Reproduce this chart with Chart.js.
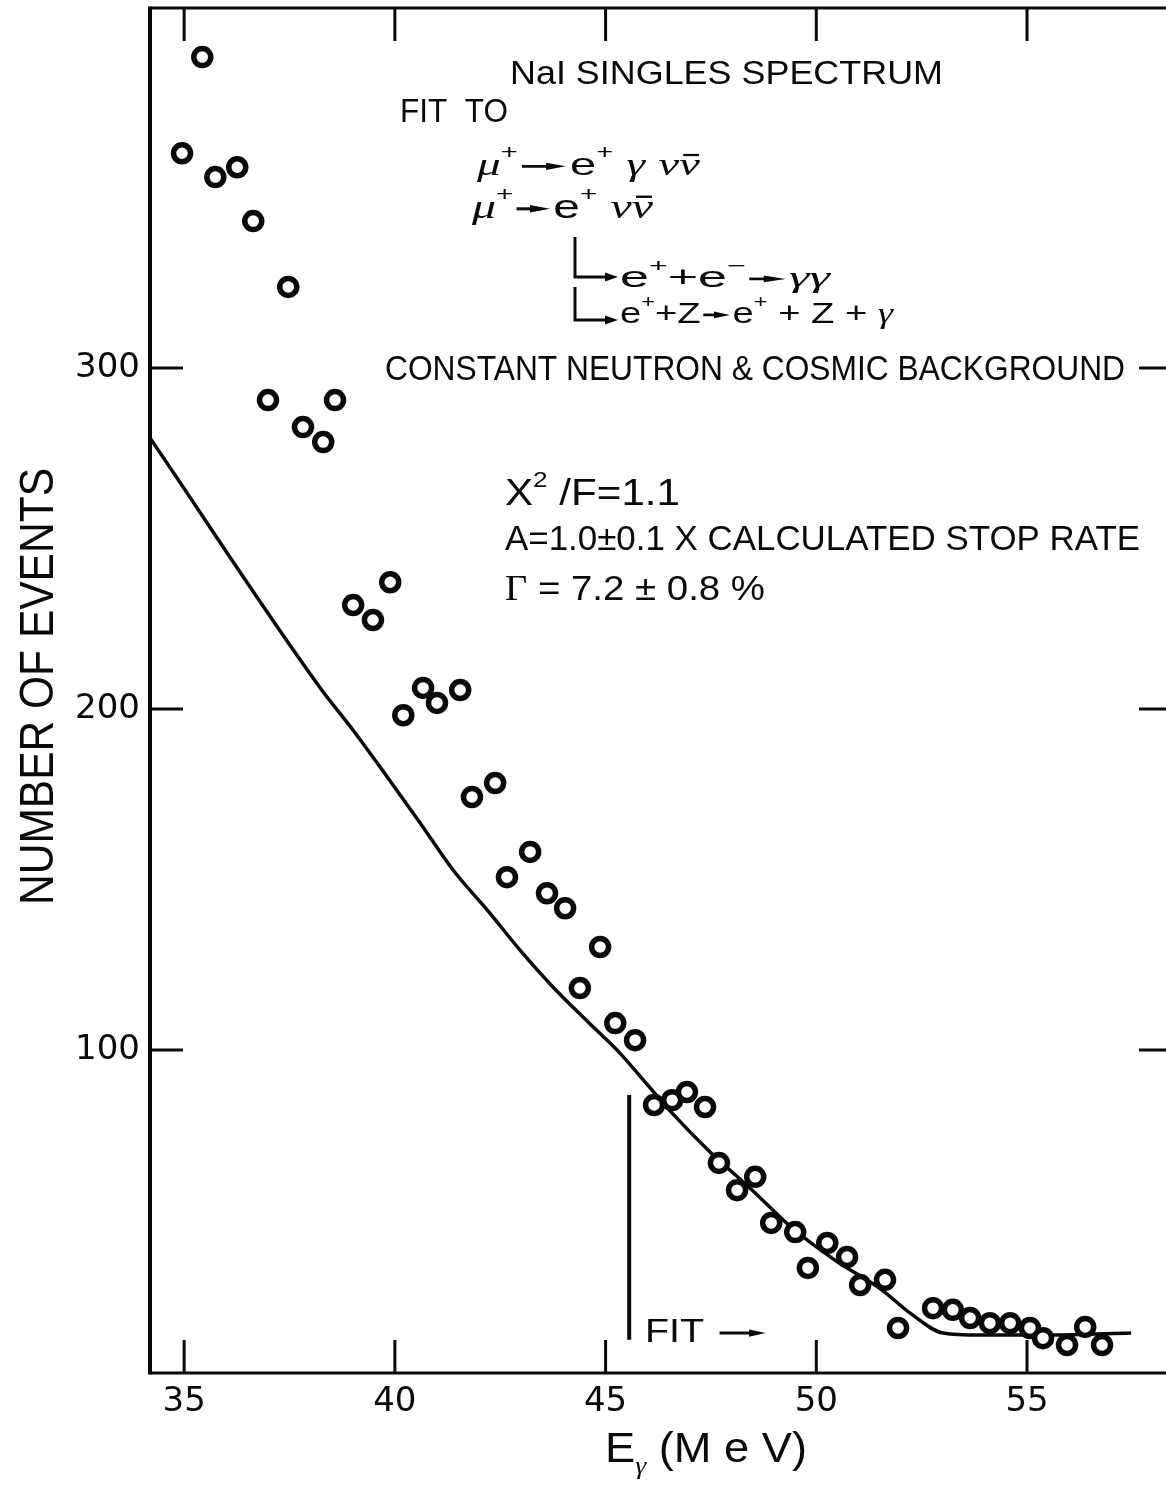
<!DOCTYPE html>
<html>
<head>
<meta charset="utf-8">
<script src="https://cdn.jsdelivr.net/npm/chart.js@4.4.1/dist/chart.umd.min.js"></script>
<style>
html,body{margin:0;padding:0;background:#fff;overflow:hidden;}
#wrap{position:relative;width:1180px;height:1489px;}
</style>
</head>
<body>
<div id="wrap"><canvas id="c"></canvas></div>
<script>
// ---- data ----
const pointX = [35.43, 34.95, 35.74, 36.26, 36.64, 37.47, 36.99, 37.82, 38.30, 38.58,
  39.01, 39.48, 39.89, 40.20, 40.67, 41.00, 41.55, 41.83, 42.38, 42.66,
  43.21, 43.61, 44.04, 44.87, 44.39, 45.23, 45.70,
  46.15, 46.58, 46.93, 47.36, 47.69, 48.12, 48.55, 48.93, 49.50, 49.80,
  50.26, 50.73, 51.04, 51.63, 51.94, 52.77, 53.24, 53.65, 54.12, 54.60,
  55.07, 55.38, 55.95, 56.38, 56.78];
const pointY = [391.2, 363.0, 356.0, 358.9, 343.1, 323.8, 290.6, 282.7, 278.3, 290.6,
  230.5, 226.1, 237.2, 198.2, 206.2, 201.8, 205.6, 174.2, 178.3, 150.7,
  158.1, 146.0, 141.6, 130.2, 118.2, 107.9, 102.9,
  83.9, 85.3, 87.7, 83.3, 66.9, 58.9, 62.8, 49.3, 46.6, 36.1,
  43.4, 39.3, 31.1, 32.6, 18.5, 24.3, 23.8, 21.4, 19.9, 19.9,
  18.5, 15.5, 13.5, 18.8, 13.5];
const fitX = [34.19, 38.23, 39.01, 39.82, 40.60, 41.38, 42.19, 42.97, 43.75, 44.56,
  45.34, 45.98, 46.58, 47.43, 48.48, 49.40, 50.44, 51.56, 52.22, 53.01,
  53.86, 55.57, 57.47];
const fitY = [279.5, 206.2, 193.8, 180.1, 166.6, 152.8, 141.1, 129.3, 118.5, 108.5,
  99.1, 90.0, 81.5, 70.7, 58.9, 48.1, 38.4, 29.6, 22.9, 17.0,
  16.4, 16.4, 17.0];
const fitMarkX = [45.56, 45.56];
const fitMarkY = [86.8, 15.0];
const xTicks = [35, 40, 45, 50, 55];
const yTicks = [100, 200, 300];
const xRange = [34.19, 58.44];
const yRange = [5.28, 405.6];

const toXY = (xs, ys) => xs.map((x, i) => ({x: x, y: ys[i]}));

const SANS = "'Liberation Sans', Arial, sans-serif";
const SERIF = "'Liberation Serif', 'DejaVu Serif', serif";
const INK = '#0a0a0a';

function fontFor(flags, size) {
  let sz = size;
  if (flags.includes('^') || flags.includes('_')) sz = size * 0.62;
  const fam = flags.includes('s') ? SERIF : SANS;
  const it = flags.includes('i') ? 'italic ' : '';
  return it + sz.toFixed(1) + 'px ' + fam;
}
function drawRich(ctx, runs, x, y, size, w) {
  let total = 0;
  const meas = runs.map(([t, f]) => {
    ctx.font = fontFor(f, size);
    const m = ctx.measureText(t).width;
    total += m;
    return m;
  });
  ctx.save();
  ctx.translate(x, y);
  ctx.scale(w / total, 1);
  let cx = 0;
  runs.forEach(([t, f], i) => {
    ctx.font = fontFor(f, size);
    let dy = 0;
    if (f.includes('^')) dy = -size * 0.5;
    if (f.includes('_')) dy = size * 0.28;
    if (f.includes('a')) {
      const m = meas[i];
      const ay = -size * 0.27;
      const hl = size * 0.42;
      ctx.lineWidth = size * 0.09;
      ctx.beginPath();
      ctx.moveTo(cx + m * 0.08, ay);
      ctx.lineTo(cx + m * 0.92 - hl * 0.5, ay);
      ctx.stroke();
      ctx.beginPath();
      ctx.moveTo(cx + m * 0.92 - hl, ay - size * 0.11);
      ctx.lineTo(cx + m * 0.92, ay);
      ctx.lineTo(cx + m * 0.92 - hl, ay + size * 0.11);
      ctx.closePath();
      ctx.fill();
    } else {
      ctx.fillText(t, cx, dy);
    }
    if (f.includes('b')) {
      ctx.fillRect(cx + meas[i] * 0.2, dy - size * 0.66, meas[i] * 0.75, size * 0.07);
    }
    cx += meas[i];
  });
  ctx.restore();
}
function arrowHook(ctx, x, y1, y2, x2) {
  ctx.beginPath();
  ctx.moveTo(x, y1);
  ctx.lineTo(x, y2);
  ctx.lineTo(x2 - 8, y2);
  ctx.stroke();
  ctx.beginPath();
  ctx.moveTo(x2 - 13, y2 - 4.5);
  ctx.lineTo(x2, y2);
  ctx.lineTo(x2 - 13, y2 + 4.5);
  ctx.closePath();
  ctx.fill();
}

const framePlugin = {
  id: 'frame',
  afterDraw(chart) {
    const ctx = chart.ctx;
    const a = chart.chartArea;
    const xs = chart.scales.x, ys = chart.scales.y;
    ctx.save();
    ctx.strokeStyle = INK;
    ctx.fillStyle = INK;
    ctx.lineCap = 'butt';
    // frame
    ctx.lineWidth = 3;
    ctx.beginPath();
    ctx.moveTo(a.left, a.top); ctx.lineTo(a.right, a.top);
    ctx.moveTo(a.left, a.bottom); ctx.lineTo(a.right, a.bottom);
    ctx.moveTo(a.right, a.top); ctx.lineTo(a.right, a.bottom);
    ctx.stroke();
    ctx.lineWidth = 4;
    ctx.beginPath();
    ctx.moveTo(a.left, a.top - 1.5); ctx.lineTo(a.left, a.bottom + 1.5);
    ctx.stroke();
    // inward ticks
    const TL = 33;
    ctx.lineWidth = 3;
    ctx.beginPath();
    xTicks.forEach(v => {
      const px = xs.getPixelForValue(v);
      ctx.moveTo(px, a.bottom); ctx.lineTo(px, a.bottom - TL);
      ctx.moveTo(px, a.top); ctx.lineTo(px, a.top + TL);
    });
    yTicks.forEach(v => {
      const py = ys.getPixelForValue(v);
      ctx.moveTo(a.left, py); ctx.lineTo(a.left + TL, py);
      ctx.moveTo(a.right, py); ctx.lineTo(a.right - TL, py);
    });
    ctx.stroke();

    // annotations
    ctx.textAlign = 'left';
    ctx.textBaseline = 'alphabetic';
    drawRich(ctx, [['NaI SINGLES SPECTRUM', '']], 510, 84, 33, 433);
    drawRich(ctx, [['FIT  TO', '']], 400, 122, 33, 108);
    drawRich(ctx, [['\u03BC', 'si'], ['+', '^'], ['    ', 'a'], ['e', ''], ['+', '^'], [' ', ''],
      ['\u03B3', 'si'], [' ', ''], ['\u03BD', 'si'], ['\u03BD', 'sib']], 477, 175, 32, 223);
    drawRich(ctx, [['\u03BC', 'si'], ['+', '^'], ['   ', 'a'], ['e', ''], ['+', '^'], [' ', ''],
      ['\u03BD', 'si'], ['\u03BD', 'sib']], 472, 218, 34, 181);
    ctx.lineWidth = 3;
    arrowHook(ctx, 575, 237, 277, 618);
    arrowHook(ctx, 575, 287, 320, 618);
    drawRich(ctx, [['e', ''], ['+', '^'], ['+', ''], ['e', ''], ['\u2212', '^'], ['   ', 'a'],
      ['\u03B3\u03B3', 'si']], 620, 287, 30, 210);
    drawRich(ctx, [['e', ''], ['+', '^'], ['+Z', ''], ['   ', 'a'], ['e', ''], ['+', '^'], [' + Z + ', ''],
      ['\u03B3', 'si']], 620, 323, 30, 273);
    drawRich(ctx, [['CONSTANT NEUTRON & COSMIC BACKGROUND', '']], 385, 380, 35, 740);
    drawRich(ctx, [['X', ''], ['2', '^'], [' /F=1.1', '']], 505, 505, 36, 175);
    drawRich(ctx, [['A=1.0\u00B10.1 X CALCULATED STOP RATE', '']], 505, 550, 35, 635);
    drawRich(ctx, [['\u0393', 's'], [' = 7.2 \u00B1 0.8 %', '']], 505, 600, 35, 260);
    drawRich(ctx, [['FIT', ''], [' ', ''], ['     ', 'a']], 645, 1342, 33, 125);

    // axis titles
    drawRich(ctx, [['E', ''], ['\u03B3', 'si_'], [' (M e V)', '']], 605, 1462, 42, 202);
    ctx.save();
    ctx.translate(36, 687);
    ctx.rotate(-Math.PI / 2);
    drawRich(ctx, [['NUMBER OF EVENTS', '']], -218, 17, 48, 437);
    ctx.restore();
    ctx.restore();
  }
};

function noPad(s) {
  s.paddingTop = 0; s.paddingBottom = 0; s.paddingLeft = 0; s.paddingRight = 0;
}

new Chart(document.getElementById('c'), {
  type: 'scatter',
  data: {
    datasets: [
      {
        label: 'data',
        data: toXY(pointX, pointY),
        pointStyle: 'circle',
        pointRadius: 8.5,
        pointBorderWidth: 5.5,
        pointBackgroundColor: '#ffffff',
        pointBorderColor: INK,
        showLine: false,
        order: 0
      },
      {
        label: 'fit',
        data: toXY(fitX, fitY),
        showLine: true,
        borderColor: INK,
        borderWidth: 3.5,
        pointRadius: 0,
        cubicInterpolationMode: 'monotone',
        order: 1
      },
      {
        label: 'fit range',
        data: toXY(fitMarkX, fitMarkY),
        showLine: true,
        borderColor: INK,
        borderWidth: 4,
        pointRadius: 0,
        order: 2
      }
    ]
  },
  options: {
    responsive: true,
    maintainAspectRatio: false,
    animation: false,
    layout: {autoPadding: false, padding: {left: 0, top: 8, right: 8, bottom: 0}},
    plugins: {legend: {display: false}, tooltip: {enabled: false}},
    scales: {
      x: {
        type: 'linear',
        min: xRange[0], max: xRange[1],
        grid: {display: false, drawTicks: false},
        border: {display: false},
        afterBuildTicks: s => { s.ticks = xTicks.map(v => ({value: v})); },
        afterFit: s => { s.height = 116; noPad(s); },
        ticks: {color: INK, padding: 9, font: {family: "'DejaVu Sans'", size: 34}, maxRotation: 0, autoSkip: false}
      },
      y: {
        type: 'linear',
        min: yRange[0], max: yRange[1],
        grid: {display: false, drawTicks: false},
        border: {display: false},
        afterBuildTicks: s => { s.ticks = yTicks.map(v => ({value: v})); },
        afterFit: s => { s.width = 150; noPad(s); },
        ticks: {color: INK, padding: 10, font: {family: "'DejaVu Sans'", size: 34}, autoSkip: false}
      }
    }
  },
  plugins: [framePlugin]
});
</script>
</body>
</html>
